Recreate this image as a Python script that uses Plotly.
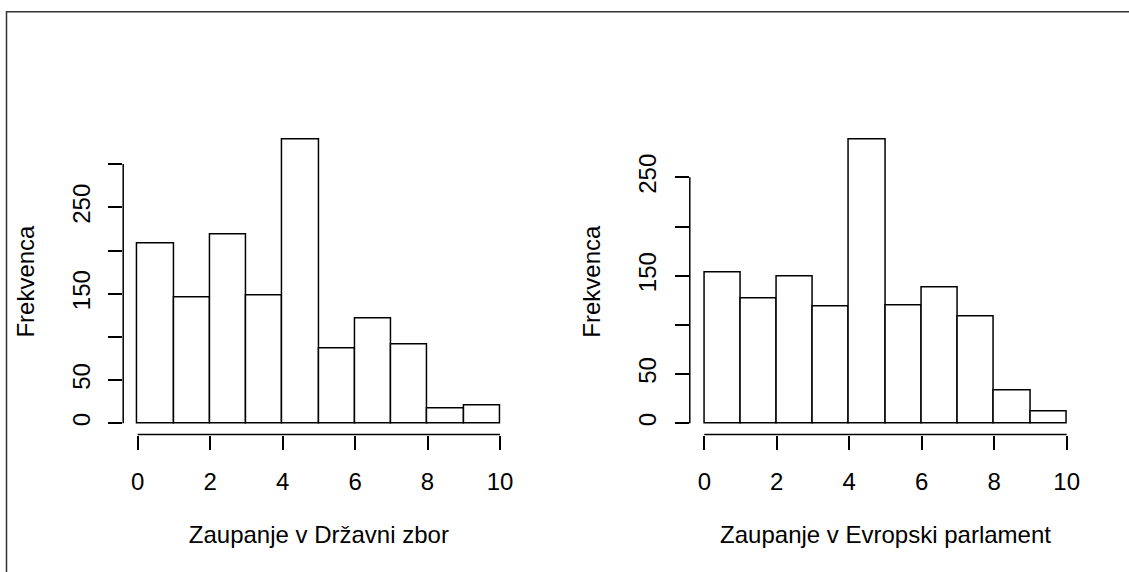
import plotly.graph_objects as go

W, H = 1129, 572

breaks = [0, 1, 2, 3, 4, 5, 6, 7, 8, 9, 10]
counts_dz = [208, 145, 218, 148, 328, 87, 121, 91, 17, 20]
counts_ep = [153, 127, 149, 119, 288, 120, 138, 108, 33, 12]

xticks = [0, 2, 4, 6, 8, 10]
yticks_dz = [0, 50, 100, 150, 200, 250, 300]
ylabels_dz = ["0", "50", "", "150", "", "250", ""]
yticks_ep = [0, 50, 100, 150, 200, 250]
ylabels_ep = ["0", "50", "", "150", "", "250"]

xtitle_dz = "Zaupanje v Državni zbor"
xtitle_ep = "Zaupanje v Evropski parlament"
ytitle = "Frekvenca"

FONT = "Liberation Sans, Arial, Helvetica, sans-serif"
FS = 24
LW = 1.5

centers = [(breaks[i] + breaks[i + 1]) / 2 for i in range(len(breaks) - 1)]
widths = [breaks[i + 1] - breaks[i] for i in range(len(breaks) - 1)]

fig = go.Figure()
fig.add_trace(go.Bar(x=centers, y=counts_dz, width=widths, xaxis="x", yaxis="y",
                     marker=dict(color="white", line=dict(color="black", width=LW)),
                     showlegend=False, hoverinfo="x+y"))
fig.add_trace(go.Bar(x=centers, y=counts_ep, width=widths, xaxis="x2", yaxis="y2",
                     marker=dict(color="white", line=dict(color="black", width=LW)),
                     showlegend=False, hoverinfo="x+y"))

def pad(lo, hi):
    d = (hi - lo) * 0.04
    return [lo - d, hi + d]

ydom = [(H - 434.6) / H, (H - 128.6) / H]
xdom1 = [123.2 / W, 514.5 / W]
xdom2 = [689.8 / W, 1081.2 / W]

common_x = dict(showgrid=False, zeroline=False, showline=False, ticks="outside",
                ticklen=14, tickwidth=LW, tickcolor="black",
                tickfont=dict(family=FONT, size=FS, color="black"),
                ticklabelstandoff=12,
                title=dict(font=dict(family=FONT, size=FS, color="black"), standoff=31))
common_y = dict(showgrid=False, zeroline=False, showline=False, ticks="outside",
                ticklen=14, tickwidth=LW, tickcolor="black", tickangle=-90,
                tickfont=dict(family=FONT, size=FS, color="black"),
                ticklabelstandoff=9,
                title=dict(font=dict(family=FONT, size=FS, color="black"), standoff=26))

lo = min(breaks); hi = max(breaks)
fig.update_layout(
    width=W, height=H,
    margin=dict(l=0, r=0, t=0, b=0),
    paper_bgcolor="white", plot_bgcolor="white",
    bargap=0,
    xaxis=dict(common_x, domain=xdom1, anchor="y", range=pad(lo, hi),
               tickvals=xticks, ticktext=[str(v) for v in xticks],
               title=dict(common_x["title"], text=xtitle_dz)),
    yaxis=dict(common_y, domain=ydom, anchor="x", range=pad(0, max(counts_dz)),
               tickvals=yticks_dz, ticktext=ylabels_dz,
               title=dict(common_y["title"], text=ytitle)),
    xaxis2=dict(common_x, domain=xdom2, anchor="y2", range=pad(lo, hi),
                tickvals=xticks, ticktext=[str(v) for v in xticks],
                title=dict(common_x["title"], text=xtitle_ep)),
    yaxis2=dict(common_y, domain=ydom, anchor="x2", range=pad(0, max(counts_ep)),
                tickvals=yticks_ep, ticktext=ylabels_ep,
                title=dict(common_y["title"], text=ytitle)),
)

shapes = []
for xa, ya, yt in [("x", "y", yticks_dz), ("x2", "y2", yticks_ep)]:
    shapes.append(dict(type="line", xref=xa, yref=ya + " domain",
                       x0=xticks[0], x1=xticks[-1], y0=0, y1=0,
                       line=dict(color="black", width=LW)))
    shapes.append(dict(type="line", xref=xa + " domain", yref=ya,
                       x0=0, x1=0, y0=yt[0], y1=yt[-1],
                       line=dict(color="black", width=LW)))
shapes.append(dict(type="rect", xref="paper", yref="paper",
                   x0=6.5 / W, x1=1.02, y0=-0.02, y1=(H - 11.8) / H,
                   line=dict(color="#333333", width=1.5)))
fig.update_layout(shapes=shapes)

fig.write_html("out.html")
